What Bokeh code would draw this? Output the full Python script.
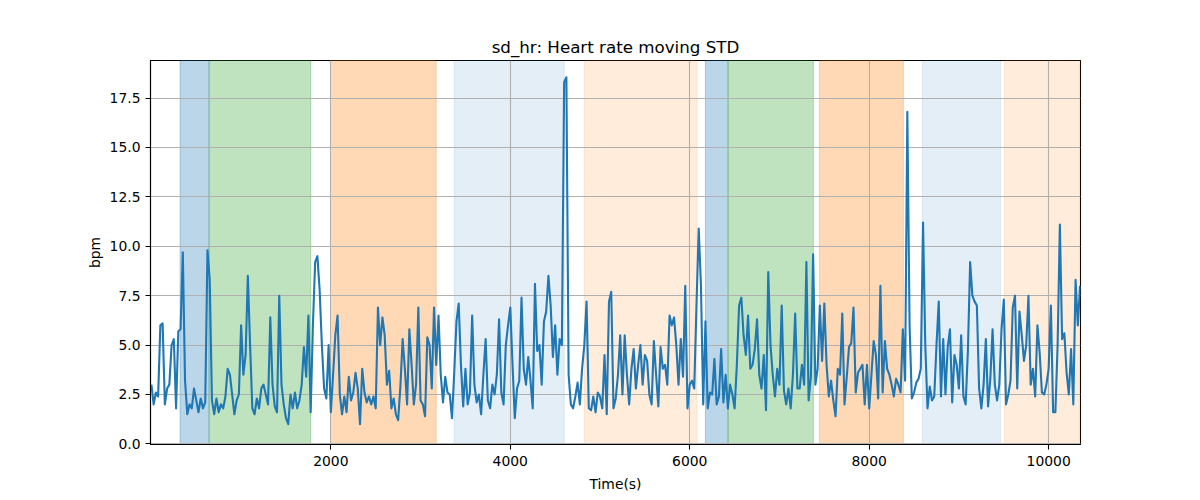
import numpy as np
from bokeh.plotting import figure
from bokeh.models import Range1d, FixedTicker, NumeralTickFormatter, BoxAnnotation, ColumnDataSource
from bokeh.embed import file_html
from bokeh.resources import INLINE

# ---------------- data ----------------
STEP = 25  # seconds between samples
sd_hr_0000 = [3.0, 2.0, 2.6, 2.4, 6.0, 6.1, 2.0, 2.8, 3.0, 5.0,
              5.3, 1.8, 5.7, 5.8, 9.7, 3.2, 1.5, 2.0, 1.8, 2.8,
              2.2, 1.6, 2.3, 1.8, 2.1, 9.8, 8.3, 2.2, 1.5, 2.3,
              1.6, 2.0, 1.8, 2.4, 3.8, 3.5, 2.5, 1.5, 2.2, 2.5]
sd_hr_1000 = [6.0, 3.5, 4.5, 8.5, 5.0, 1.8, 1.5, 2.3, 1.8, 2.8,
              3.0, 2.5, 2.0, 6.4, 3.0, 1.9, 1.6, 7.5, 3.0, 2.0,
              1.3, 1.0, 2.5, 1.8, 2.6, 1.8, 2.2, 3.0, 4.9, 3.4,
              6.5, 1.6, 6.0, 9.2, 9.5, 7.8, 5.0, 2.8, 2.3, 5.0]
sd_hr_2000 = [1.6, 3.5, 5.5, 6.5, 2.5, 1.5, 2.4, 1.6, 3.4, 2.2,
              2.6, 3.6, 2.8, 1.0, 3.8, 2.6, 2.1, 2.4, 2.0, 2.4,
              1.8, 6.9, 5.0, 6.4, 5.5, 3.0, 3.7, 1.8, 2.3, 1.5,
              1.2, 2.9, 5.3, 3.8, 2.0, 5.8, 4.0, 2.0, 3.0, 6.9]
sd_hr_3000 = [2.2, 2.0, 1.4, 5.4, 5.0, 2.8, 6.9, 4.0, 6.5, 3.5,
              2.1, 3.4, 2.6, 2.5, 1.3, 3.6, 6.2, 7.1, 4.0, 1.9,
              3.8, 2.0, 2.6, 6.5, 3.0, 2.1, 2.5, 1.5, 3.5, 5.3,
              2.2, 1.8, 3.0, 2.5, 3.5, 6.3, 2.6, 2.0, 5.0, 6.0]
sd_hr_4000 = [6.9, 4.0, 1.3, 2.8, 3.2, 7.4, 3.8, 3.0, 4.4, 3.2,
              1.8, 8.1, 4.7, 5.0, 3.0, 6.2, 6.7, 8.5, 7.0, 4.4,
              6.0, 3.5, 5.3, 5.0, 18.3, 18.55, 3.5, 2.0, 1.8, 2.4,
              3.1, 2.0, 3.8, 5.0, 7.2, 1.8, 1.7, 2.4, 1.6, 2.6]
sd_hr_5000 = [2.4, 1.8, 4.5, 1.5, 7.2, 7.7, 1.8, 2.3, 3.5, 5.5,
              2.5, 5.5, 3.5, 2.0, 3.8, 4.8, 2.8, 4.0, 5.0, 3.0,
              4.5, 4.2, 2.5, 2.0, 5.2, 3.5, 1.9, 4.9, 3.8, 4.0,
              3.0, 6.5, 6.0, 6.4, 5.0, 3.0, 5.3, 3.4, 8.0, 1.8]
sd_hr_6000 = [3.0, 3.2, 2.8, 7.0, 10.9, 8.0, 2.0, 6.2, 1.8, 2.6,
              2.5, 4.3, 2.0, 2.4, 4.8, 2.1, 3.5, 1.8, 3.0, 2.5,
              1.8, 4.0, 7.0, 7.4, 5.5, 4.5, 6.5, 3.8, 4.0, 4.8,
              6.3, 3.5, 2.8, 4.5, 1.7, 8.7, 5.0, 3.5, 2.4, 3.8]
sd_hr_7000 = [3.0, 7.0, 2.7, 2.0, 2.8, 1.8, 3.5, 6.6, 2.8, 2.8,
              4.0, 3.0, 9.2, 2.2, 3.4, 9.6, 3.0, 3.8, 7.0, 4.2,
              7.1, 4.0, 2.4, 3.2, 2.2, 1.4, 3.8, 3.5, 6.6, 2.0,
              3.4, 4.9, 5.1, 6.9, 2.6, 3.6, 3.8, 4.0, 2.0, 4.0]
sd_hr_8000 = [1.8, 3.5, 5.2, 4.5, 2.3, 8.0, 2.6, 5.2, 3.8, 3.5,
              3.0, 2.4, 3.3, 3.0, 2.6, 5.8, 3.2, 16.8, 6.0, 2.3,
              2.6, 3.1, 3.3, 3.8, 11.2, 5.0, 1.8, 2.9, 2.2, 2.4,
              5.0, 7.2, 2.4, 5.3, 2.5, 4.9, 5.8, 2.1, 4.5, 4.0]
sd_hr_9000 = [2.8, 5.5, 2.4, 2.0, 4.7, 9.2, 7.5, 7.2, 7.0, 2.8,
              1.8, 3.0, 5.3, 1.9, 3.3, 5.8, 3.0, 2.2, 3.0, 5.8,
              7.3, 2.0, 2.5, 3.2, 6.9, 7.5, 2.8, 6.7, 5.5, 4.2,
              5.0, 7.5, 3.0, 3.8, 2.4, 6.0, 4.6, 2.6, 2.5, 3.0]
sd_hr_10000 = [3.8, 7.0, 1.6, 1.6, 5.0, 11.1, 5.3, 5.6, 3.6, 2.5,
               4.8, 2.0, 8.3, 6.0, 8.0]

sd_hr = (sd_hr_0000 + sd_hr_1000 + sd_hr_2000 + sd_hr_3000 + sd_hr_4000 +
         sd_hr_5000 + sd_hr_6000 + sd_hr_7000 + sd_hr_8000 + sd_hr_9000 + sd_hr_10000)
time_s = [i * STEP for i in range(len(sd_hr))]

# shaded activity segments (seconds)
span_start = [319, 643, 1996, 3375, 4824, 6174, 6427, 7445, 8593, 9508]
span_end = [643, 1777, 3174, 4601, 6082, 6427, 7378, 8381, 9463, 10500]
span_kind = ["blue", "green", "orange", "lightblue", "lightorange",
             "blue", "green", "orange", "lightblue", "lightorange"]
kind_style = {
    "blue": ("#1f77b4", 0.3),
    "green": ("#2ca02c", 0.3),
    "orange": ("#ff7f0e", 0.3),
    "lightblue": ("#1f77b4", 0.12),
    "lightorange": ("#ff7f0e", 0.15),
}

y_ticks = [0.0, 2.5, 5.0, 7.5, 10.0, 12.5, 15.0, 17.5]
x_ticks = [2000, 4000, 6000, 8000, 10000]

# ---------------- figure ----------------
FONT = "DejaVu Sans"
p = figure(
    frame_width=930, frame_height=384,
    min_border_left=150, min_border_right=120, min_border_top=60, min_border_bottom=50,
    x_range=Range1d(-10, 10355), y_range=Range1d(-0.03, 19.4),
    output_backend="svg", toolbar_location=None,
    title="sd_hr: Heart rate moving STD",
)
p.background_fill_color = "white"
p.border_fill_color = "white"
p.outline_line_color = "black"
p.outline_line_width = 1.1

p.title.align = "center"
p.title.text_font = FONT
p.title.text_font_size = "16.7px"
p.title.text_font_style = "normal"
p.title.text_color = "black"
p.title.standoff = 7

for s, e, k in zip(span_start, span_end, span_kind):
    c, a = kind_style[k]
    p.add_layout(BoxAnnotation(left=s, right=e, fill_color=c, fill_alpha=a,
                               line_color=c, line_alpha=a, line_width=1, level="image"))

src = ColumnDataSource(dict(t=time_s, v=sd_hr))
p.line("t", "v", source=src, line_color="#1f77b4", line_width=2.1, line_join="round")

for ax in (p.xaxis[0], p.yaxis[0]):
    ax.axis_line_color = "black"
    ax.axis_line_width = 1.1
    ax.major_tick_line_color = "black"
    ax.major_tick_line_width = 1.1
    ax.major_tick_out = 5
    ax.major_tick_in = 0
    ax.minor_tick_line_color = None
    ax.major_label_text_font = FONT
    ax.major_label_text_font_size = "13.9px"
    ax.major_label_text_color = "black"
    ax.axis_label_text_font = FONT
    ax.axis_label_text_font_size = "13.9px"
    ax.axis_label_text_font_style = "normal"
    ax.axis_label_text_color = "black"

p.xaxis[0].ticker = FixedTicker(ticks=x_ticks)
p.yaxis[0].ticker = FixedTicker(ticks=y_ticks)
p.yaxis[0].formatter = NumeralTickFormatter(format="0.0")
p.xaxis[0].axis_label = "Time(s)"
p.yaxis[0].axis_label = "bpm"
p.xaxis[0].major_label_standoff = 6
p.yaxis[0].major_label_standoff = 5
p.xaxis[0].axis_label_standoff = 7
p.yaxis[0].axis_label_standoff = 4

for g in (p.xgrid[0], p.ygrid[0]):
    g.grid_line_color = "#b0b0b0"
    g.grid_line_width = 1.1
p.xgrid[0].ticker = FixedTicker(ticks=x_ticks)
p.ygrid[0].ticker = FixedTicker(ticks=y_ticks)

open("out.html", "w").write(file_html(p, INLINE))
